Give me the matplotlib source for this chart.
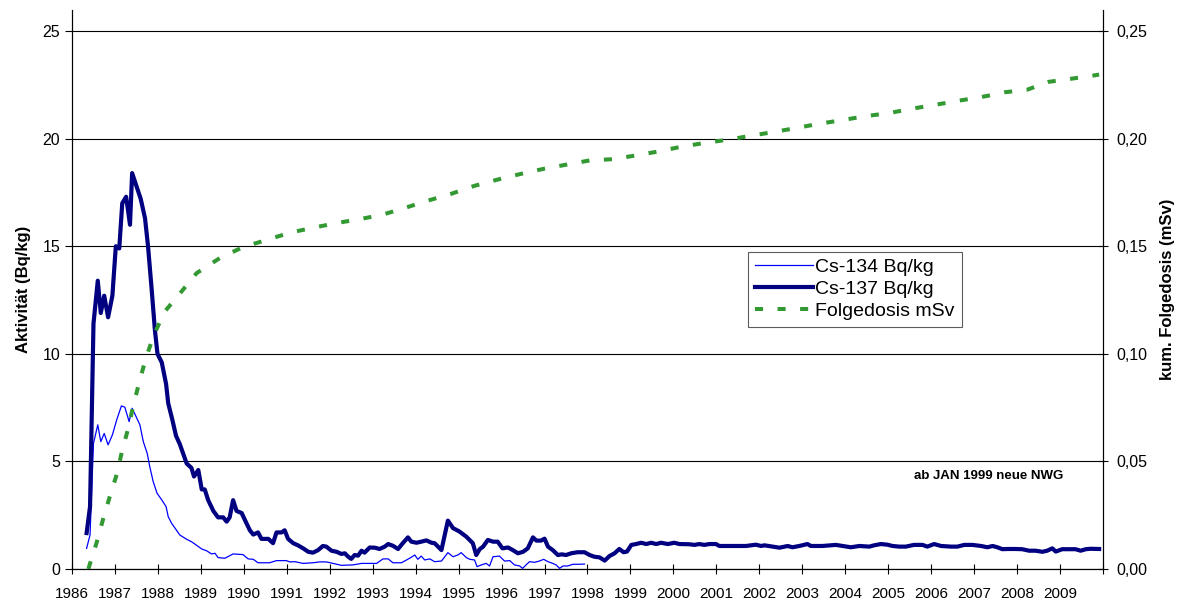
import matplotlib.pyplot as plt
from matplotlib.ticker import FuncFormatter

plt.rcParams['font.family'] = ['Liberation Sans', 'DejaVu Sans']

# --- Messwerte (Jahr als Dezimalzahl) ---
cs137_year = [1986.34, 1986.42, 1986.50, 1986.60, 1986.67, 1986.75, 1986.84, 1986.94, 1987.02, 1987.10,
              1987.17, 1987.26, 1987.35, 1987.40, 1987.50, 1987.60, 1987.70, 1987.77, 1987.85, 1987.93,
              1987.99, 1988.09, 1988.19, 1988.24, 1988.34, 1988.42, 1988.51, 1988.67, 1988.78, 1988.84,
              1988.94, 1989.02, 1989.09, 1989.17, 1989.29, 1989.40, 1989.52, 1989.60, 1989.67, 1989.75,
              1989.83, 1989.95, 1990.02, 1990.14, 1990.22, 1990.33, 1990.41, 1990.57, 1990.68, 1990.76,
              1990.88, 1990.95, 1991.03, 1991.15, 1991.26, 1991.38, 1991.50, 1991.61, 1991.73, 1991.84,
              1991.92, 1992.04, 1992.16, 1992.27, 1992.35, 1992.43, 1992.50, 1992.58, 1992.66, 1992.74,
              1992.81, 1992.93, 1993.05, 1993.16, 1993.28, 1993.36, 1993.47, 1993.59, 1993.70, 1993.82,
              1993.90, 1994.02, 1994.13, 1994.25, 1994.37, 1994.44, 1994.60, 1994.75, 1994.87, 1995.02,
              1995.18, 1995.33, 1995.41, 1995.49, 1995.57, 1995.68, 1995.80, 1995.91, 1996.02, 1996.15,
              1996.26, 1996.38, 1996.50, 1996.61, 1996.73, 1996.81, 1996.92, 1997.00, 1997.08, 1997.19,
              1997.31, 1997.40, 1997.50, 1997.62, 1997.77, 1997.93, 1998.05, 1998.16, 1998.28, 1998.40,
              1998.51, 1998.63, 1998.74, 1998.84, 1998.92, 1999.02, 1999.13, 1999.25, 1999.37, 1999.48,
              1999.60, 1999.71, 1999.87, 2000.02, 2000.14, 2000.37, 2000.49, 2000.60, 2000.72, 2000.84,
              2000.99, 2001.07, 2001.38, 2001.69, 2001.92, 2002.04, 2002.12, 2002.31, 2002.47, 2002.66,
              2002.77, 2002.93, 2003.12, 2003.20, 2003.47, 2003.78, 2003.94, 2004.13, 2004.33, 2004.56,
              2004.67, 2004.83, 2004.98, 2005.10, 2005.26, 2005.41, 2005.60, 2005.80, 2005.91, 2006.07,
              2006.23, 2006.46, 2006.61, 2006.77, 2006.96, 2007.16, 2007.31, 2007.43, 2007.54, 2007.66,
              2007.77, 2007.97, 2008.12, 2008.28, 2008.43, 2008.59, 2008.70, 2008.82, 2008.90, 2009.05,
              2009.21, 2009.36, 2009.48, 2009.60, 2009.71, 2009.91]
cs137 = [1.67, 2.9, 11.4, 13.4, 11.9, 12.7, 11.7, 12.7, 15.0, 14.9,
         17.0, 17.3, 16.0, 18.4, 17.8, 17.2, 16.3, 15.0, 13.1, 11.1,
         10.0, 9.6, 8.6, 7.7, 6.9, 6.2, 5.8, 4.9, 4.7, 4.3,
         4.6, 3.7, 3.7, 3.2, 2.7, 2.4, 2.4, 2.2, 2.4, 3.2,
         2.7, 2.6, 2.3, 1.8, 1.6, 1.7, 1.4, 1.4, 1.2, 1.7,
         1.7, 1.8, 1.4, 1.2, 1.1, 0.96, 0.8, 0.76, 0.88, 1.07,
         1.04, 0.85, 0.8, 0.7, 0.73, 0.57, 0.47, 0.65, 0.62, 0.85,
         0.76, 1.0, 0.99, 0.93, 1.04, 1.16, 1.08, 0.93, 1.2, 1.47,
         1.27, 1.22, 1.27, 1.33, 1.22, 1.2, 0.88, 2.25, 1.9, 1.74,
         1.5, 1.2, 0.65, 0.92, 1.04, 1.35, 1.27, 1.27, 0.96, 1.0,
         0.88, 0.73, 0.8, 0.96, 1.47, 1.32, 1.32, 1.41, 1.04, 0.88,
         0.65, 0.68, 0.65, 0.73, 0.78, 0.78, 0.65, 0.57, 0.54, 0.39,
         0.6, 0.73, 0.93, 0.78, 0.81, 1.12, 1.16, 1.22, 1.16, 1.22,
         1.16, 1.22, 1.16, 1.22, 1.16, 1.15, 1.12, 1.16, 1.12, 1.16,
         1.16, 1.07, 1.07, 1.07, 1.13, 1.07, 1.1, 1.04, 0.99, 1.07,
         1.01, 1.07, 1.16, 1.07, 1.07, 1.12, 1.07, 1.01, 1.07, 1.04,
         1.1, 1.16, 1.13, 1.07, 1.04, 1.04, 1.12, 1.12, 1.04, 1.16,
         1.07, 1.04, 1.04, 1.12, 1.12, 1.07, 1.01, 1.07, 1.01, 0.92,
         0.93, 0.93, 0.92, 0.85, 0.85, 0.8, 0.85, 0.96, 0.81, 0.92,
         0.92, 0.92, 0.85, 0.92, 0.94, 0.93]

cs134_year = [1986.34, 1986.42, 1986.50, 1986.60, 1986.67, 1986.75, 1986.84, 1986.94, 1987.04, 1987.15,
              1987.23, 1987.33, 1987.40, 1987.49, 1987.58, 1987.66, 1987.75, 1987.81, 1987.89, 1987.98,
              1988.09, 1988.19, 1988.24, 1988.32, 1988.43, 1988.51, 1988.67, 1988.78, 1988.86, 1989.02,
              1989.13, 1989.25, 1989.33, 1989.40, 1989.56, 1989.75, 1989.98, 1990.10, 1990.22, 1990.33,
              1990.60, 1990.76, 1990.99, 1991.07, 1991.19, 1991.38, 1991.61, 1991.77, 1991.92, 1992.08,
              1992.27, 1992.54, 1992.74, 1993.09, 1993.24, 1993.36, 1993.47, 1993.67, 1993.86, 1993.98,
              1994.05, 1994.13, 1994.21, 1994.33, 1994.44, 1994.60, 1994.75, 1994.87, 1994.98, 1995.06,
              1995.18, 1995.26, 1995.37, 1995.43, 1995.53, 1995.64, 1995.72, 1995.80, 1995.95, 1996.07,
              1996.19, 1996.30, 1996.42, 1996.49, 1996.57, 1996.65, 1996.77, 1996.88, 1996.98, 1997.08,
              1997.19, 1997.27, 1997.35, 1997.43, 1997.54, 1997.66, 1997.81, 1997.93]
cs134 = [0.96, 1.58, 5.84, 6.7, 5.92, 6.3, 5.77, 6.23, 6.93, 7.58,
         7.52, 6.85, 7.47, 7.09, 6.7, 5.92, 5.38, 4.76, 4.06, 3.52,
         3.21, 2.9, 2.43, 2.12, 1.81, 1.58, 1.38, 1.27, 1.16, 0.93,
         0.85, 0.7, 0.73, 0.53, 0.5, 0.7, 0.67, 0.47, 0.45, 0.29,
         0.29, 0.39, 0.39, 0.33, 0.34, 0.26, 0.29, 0.33, 0.33, 0.26,
         0.17, 0.19, 0.26, 0.26, 0.47, 0.47, 0.29, 0.29, 0.5, 0.65,
         0.45, 0.6, 0.42, 0.47, 0.34, 0.37, 0.76, 0.57, 0.65, 0.76,
         0.53, 0.45, 0.42, 0.11, 0.19, 0.26, 0.14, 0.57, 0.6, 0.37,
         0.39, 0.19, 0.14, 0.03, 0.19, 0.34, 0.31, 0.37, 0.45, 0.34,
         0.26, 0.19, 0.03, 0.14, 0.14, 0.22, 0.22, 0.23]

dosis_year = [1986.38, 1986.57, 1986.73, 1986.88, 1987.05, 1987.17, 1987.31, 1987.43, 1987.57, 1987.72,
              1987.91, 1988.16, 1988.51, 1988.90, 1989.44, 1989.98, 1990.54, 1991.09, 1991.61, 1992.16,
              1992.70, 1993.23, 1993.76, 1994.30, 1994.83, 1995.37, 1995.89, 1996.44, 1996.98, 1997.50,
              1998.05, 1998.60, 1999.12, 1999.66, 2000.19, 2000.72, 2001.26, 2001.81, 2002.33, 2002.87,
              2003.41, 2003.95, 2004.48, 2005.02, 2005.57, 2006.11, 2006.65, 2007.18, 2007.72, 2008.24,
              2008.73, 2009.27, 2009.79, 2009.91]
dosis = [0.0, 0.012, 0.0236, 0.0337, 0.0445, 0.0553, 0.0654, 0.0763, 0.0871, 0.098,
         0.109, 0.1197, 0.128, 0.1375, 0.1445, 0.1496, 0.153, 0.1564, 0.1586, 0.1608,
         0.1626, 0.1647, 0.1679, 0.1713, 0.1744, 0.1781, 0.1809, 0.1836, 0.186, 0.1879,
         0.1899, 0.1905, 0.1922, 0.1941, 0.1963, 0.198, 0.1995, 0.2014, 0.2031, 0.205,
         0.207, 0.2087, 0.2105, 0.2119, 0.214, 0.2158, 0.2177, 0.2194, 0.2216, 0.2228,
         0.2264, 0.2279, 0.2294, 0.2298]

years = list(range(1986, 2011))
year_labels = [str(y) for y in range(1986, 2010)] + [""]

# --- Figure ---
fig = plt.figure(figsize=(11.84, 6.05), dpi=100)
ax = fig.add_axes([72 / 1184, 1 - 569 / 605, (1103 - 72) / 1184, (569 - 9.6) / 605])
ax2 = ax.twinx()

l134, = ax.plot(cs134_year, cs134, color="#0000FF", lw=0.9, label="Cs-134 Bq/kg")
l137, = ax.plot(cs137_year, cs137, color="#000080", lw=3.0, label="Cs-137 Bq/kg",
                solid_joinstyle="round")
ldos, = ax2.plot(dosis_year, dosis, color="#339933", lw=2.9, linestyle=(0, (2.0, 3.6)),
                 label="Folgedosis mSv")

# --- Achsen ---
ax.set_xlim(1986, 2010)
ax.set_ylim(0, 26)
ax2.set_ylim(0, 0.26)

ax.set_xticks(years)
ax.set_xticklabels(year_labels)
ax.set_yticks(range(0, 26, 5))
ax2.set_yticks([0, 0.05, 0.10, 0.15, 0.20, 0.25])
ax2.yaxis.set_major_formatter(FuncFormatter(lambda v, p: f"{v:.2f}".replace(".", ",")))

ax.tick_params(axis="x", direction="inout", length=7, width=0.8, labelsize=11, pad=9.5)
ax.tick_params(axis="y", direction="out", length=5, width=0.8, labelsize=11.5, pad=3.5)
ax2.tick_params(axis="y", direction="inout", length=7, width=0.8, labelsize=11.5, pad=6)

ax.yaxis.grid(True, color="black", lw=0.8)
ax.set_axisbelow(True)

for a in (ax, ax2):
    a.spines["top"].set_visible(False)
    for s in a.spines.values():
        s.set_linewidth(0.8)

ax.set_ylabel("Aktivität (Bq/kg)", fontsize=12, fontweight="bold")
ax.yaxis.set_label_coords(-0.040, 0.5)
ax2.set_ylabel("kum. Folgedosis (mSv)", fontsize=12, fontweight="bold")
ax2.yaxis.set_label_coords(1.0553, 0.5)

ax.text(2007.35, 4.3, "ab JAN 1999 neue NWG", fontsize=9.5, fontweight="bold",
        ha="center", va="center")

# --- Legende ---
leg = ax2.legend(handles=[l134, l137, ldos], loc="upper left", bbox_to_anchor=(0.656, 0.567),
                 fontsize=14, frameon=True, fancybox=False, edgecolor="#333333",
                 handlelength=3.0, handletextpad=0.1, labelspacing=0.22, borderpad=0.35,
                 borderaxespad=0)
leg.get_frame().set_linewidth(0.8)

plt.savefig("out.png", dpi=100)
plt.close()
